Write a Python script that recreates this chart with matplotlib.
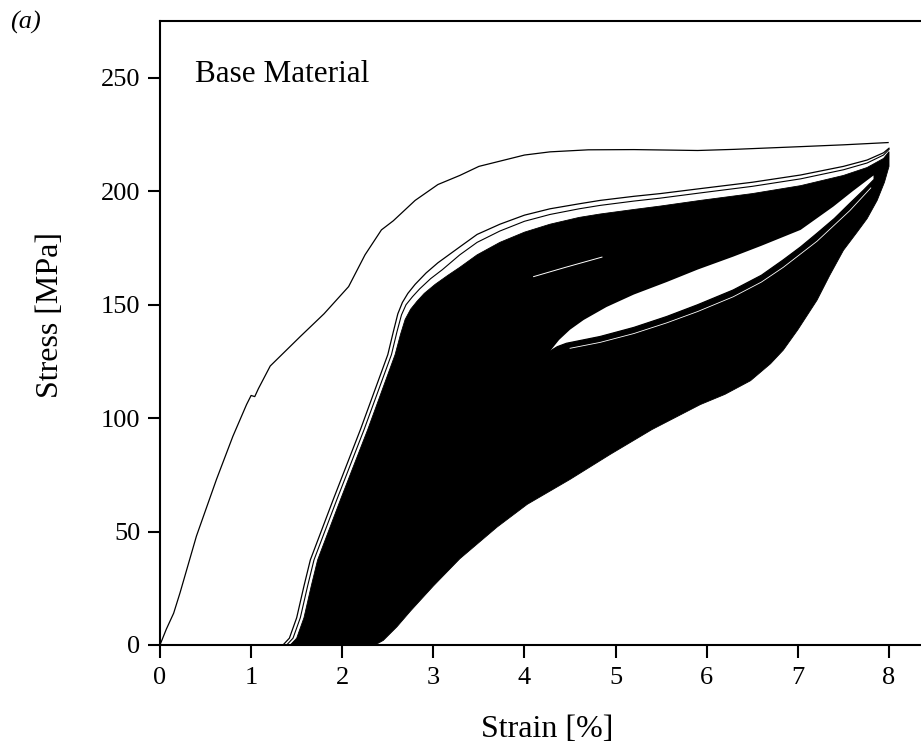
import numpy as np
import matplotlib.pyplot as plt

plt.rcParams['font.family'] = ['Liberation Serif', 'DejaVu Serif']

# first loading cycle
load1_strain = [0.00, 0.07, 0.15, 0.22, 0.40, 0.62, 0.80, 0.95, 1.00, 1.04, 1.08, 1.21, 1.54, 1.80,
                2.07, 2.25, 2.43, 2.56, 2.80, 3.05, 3.29, 3.50, 3.73, 4.00, 4.28, 4.70, 5.20, 5.56,
                5.90, 6.30, 7.03, 7.50, 7.99]
load1_stress = [0, 7, 14, 23, 48, 73, 92, 106, 110, 109.5, 113, 123, 136, 146,
                158, 172, 183, 187, 196, 203, 207, 211, 213.3, 216, 217.4, 218.3, 218.4, 218.2,
                218, 218.5, 219.7, 220.5, 221.5]

# second and third loading cycles (outermost visible lines of the bundle)
load2_strain = [1.35, 1.42, 1.50, 1.58, 1.65, 1.90, 2.20, 2.50, 2.56, 2.61, 2.66, 2.72, 2.80, 2.92,
                3.05, 3.29, 3.48, 3.73, 4.00, 4.28, 4.60, 4.83, 5.20, 5.49, 5.93, 6.50, 7.03, 7.50,
                7.76, 7.94, 8.00]
load2_stress = [0, 3, 12, 26, 37.5, 64, 95, 128, 138, 146, 151, 155, 159, 164,
                168.5, 175.5, 181, 185.5, 189.5, 192.3, 194.5, 196, 197.8, 199, 201.2, 204, 207.2, 211,
                213.8, 217, 219]
load3_strain = [1.39, 1.46, 1.54, 1.62, 1.69, 1.94, 2.24, 2.54, 2.60, 2.65, 2.70, 2.77, 2.85, 2.97,
                3.10, 3.29, 3.48, 3.73, 4.00, 4.28, 4.60, 4.83, 5.20, 5.49, 5.93, 6.50, 7.03, 7.50,
                7.76, 7.94, 8.00]
load3_stress = [0, 3, 12, 26, 37.5, 64, 95, 128, 138, 145.5, 150, 153.5, 157, 161.5,
                165.5, 172, 177.5, 182.5, 186.8, 189.8, 192.3, 193.8, 195.7, 197, 199.3, 202.2, 205.5, 209.5,
                212.5, 216, 218.5]

# envelope of the dense bundle of later cycles
band_top_strain = [1.43, 1.50, 1.58, 1.66, 1.73, 1.98, 2.28, 2.58, 2.64, 2.69, 2.75, 2.82, 2.90,
                   3.02, 3.16, 3.29, 3.48, 3.73, 4.00, 4.28, 4.60, 4.83, 5.20, 5.49, 5.93, 6.50,
                   7.03, 7.50, 7.76, 7.94, 8.00]
band_top_stress = [0, 3, 12, 26, 37.5, 64, 95, 128, 137, 143.5, 148, 151.5, 155,
                   159, 163, 166.5, 172, 177.5, 182, 185.5, 188.5, 190, 192, 193.5, 196, 199,
                   202.5, 207, 210.5, 214.5, 217.5]
band_low_strain = [8.00, 7.95, 7.87, 7.76, 7.65, 7.50, 7.35, 7.21, 7.00, 6.84, 6.70, 6.48, 6.20,
                   5.93, 5.40, 4.94, 4.50, 4.03, 3.70, 3.29, 3.00, 2.75, 2.60, 2.45, 2.36]
band_low_stress = [211, 204, 196, 188, 182, 174, 163, 152, 139, 130, 124, 116.5, 110.5,
                   106, 95, 84, 73, 62, 52, 38, 26, 15, 8, 2, 0]

# open area between loading and unloading branches of the late cycles
eye_top_strain = [7.83, 7.60, 7.39, 7.03, 6.60, 6.29, 5.90, 5.56, 5.20, 4.90, 4.65, 4.50, 4.38, 4.28]
eye_top_stress = [207, 200, 193.3, 183, 176, 171.2, 165.5, 160, 154.5, 149, 143.3, 139, 134.5, 129.5]
eye_bot_strain = [4.28, 4.36, 4.46, 4.83, 5.20, 5.56, 5.90, 6.29, 6.60, 6.84, 7.03, 7.21, 7.40,
                  7.57, 7.72, 7.83]
eye_bot_stress = [129.5, 131.5, 133, 136, 140, 144.8, 150, 156.5, 163, 169.8, 175.5, 181.5, 188,
                  194.7, 200.5, 205]
# a gap between the first unloading lines seen just below the open area
gap_strain = [4.50, 4.83, 5.20, 5.56, 5.90, 6.29, 6.60, 6.84, 7.21, 7.57, 7.80]
gap_stress = [130.8, 133.4, 137.3, 142, 147, 153.5, 160, 166.5, 178, 191.5, 201.5]

streak_strain = [4.10, 4.45, 4.85]
streak_stress = [162.4, 166.5, 171]

fig = plt.figure(figsize=(9.21, 7.44), dpi=100)
ax = fig.add_axes([0.1737, 0.1331, 0.8263, 0.8387])

ax.fill(band_top_strain + band_low_strain, band_top_stress + band_low_stress,
        color='black', lw=0.6)
ax.fill(eye_top_strain + eye_bot_strain, eye_top_stress + eye_bot_stress,
        color='white', lw=0)
ax.plot(eye_bot_strain, eye_bot_stress, color='black', lw=0.9)
ax.plot(gap_strain, gap_stress, color='white', lw=0.6)
ax.plot(streak_strain, streak_stress, color='white', lw=0.7)

ax.plot(load1_strain, load1_stress, color='black', lw=0.9)
ax.plot(load2_strain, load2_stress, color='black', lw=0.9)
ax.plot(load3_strain, load3_stress, color='black', lw=0.8)

ax.set_xlim(0, 8.351)
ax.set_ylim(0, 275.1)
ax.set_xticks(range(0, 9))
ax.set_yticks(range(0, 251, 50))
ax.spines['right'].set_visible(False)
for s in ['top', 'left', 'bottom']:
    ax.spines[s].set_linewidth(1.5)
ax.tick_params(direction='out', length=9, width=1.5, labelsize=19)
ax.tick_params(axis='x', pad=7)
ax.tick_params(axis='y', pad=5)

ax.set_xlabel('Strain [%]', fontsize=23)
ax.xaxis.set_label_coords(0.5085, -0.112)
ax.set_ylabel('Stress [MPa]', fontsize=23)
ax.yaxis.set_label_coords(-0.125, 0.529)

ax.text(0.046, 0.902, 'Base Material', transform=ax.transAxes, fontsize=22.5, va='baseline')
fig.text(0.011, 0.962, '(a)', fontsize=19, style='italic', va='baseline')

fig.savefig('out.png', dpi=100)
